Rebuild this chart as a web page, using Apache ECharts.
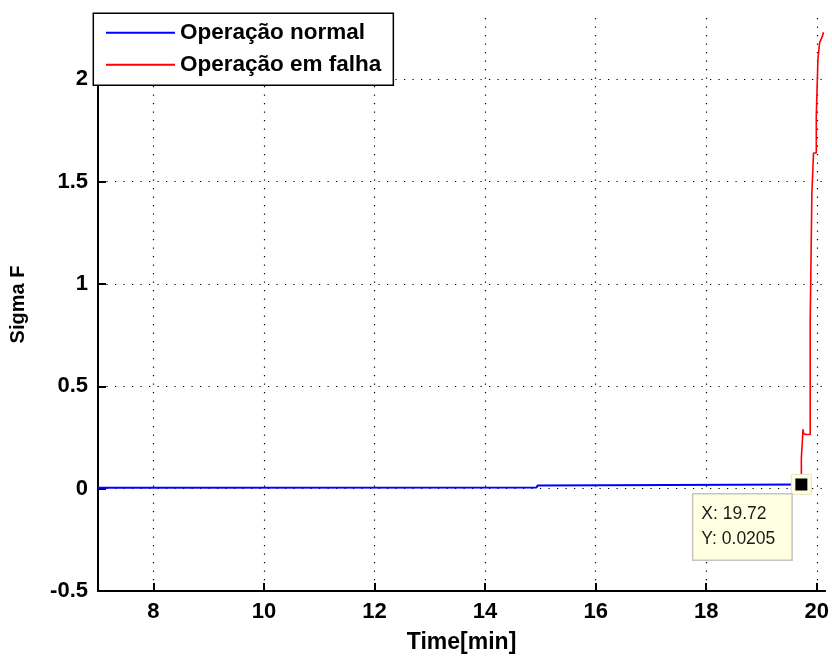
<!DOCTYPE html>
<html>
<head>
<meta charset="utf-8">
<title>Sigma F</title>
<script src="https://cdn.jsdelivr.net/npm/echarts@6/dist/echarts.min.js"></script>
<style>
  html, body { margin: 0; padding: 0; background: #ffffff; }
  #chart { width: 832px; height: 659px; }
</style>
</head>
<body>
<div id="chart"></div>
<script>
// Normal operation trace (time in minutes, Sigma F)
const normalTime = [7.0, 14.93, 14.95, 19.72];
const normalSigma = [0.004, 0.006, 0.016, 0.0205];

// Faulty operation trace, rising sharply near the end of the run
const faultTime = [19.72, 19.72, 19.75, 19.75, 19.76, 19.80, 19.88, 19.88, 19.91, 19.91,
                   19.94, 19.94, 19.99, 19.99, 20.02, 20.02, 20.05, 20.05, 20.10, 20.12];
const faultSigma = [0.0205, 0.15, 0.15, 0.29, 0.27, 0.265, 0.265, 0.82, 0.82, 1.44,
                    1.44, 1.64, 1.64, 1.82, 1.82, 2.10, 2.10, 2.18, 2.21, 2.23];

// Data cursor point
const cursorTime = 19.72;
const cursorSigma = 0.0205;

// Axis ticks
const xTicks = [8, 10, 12, 14, 16, 18, 20];
const yTicks = [-0.5, 0, 0.5, 1, 1.5, 2];

const seriesNames = ['Operação normal', 'Operação em falha'];

const zip = (xs, ys) => xs.map((x, i) => [x, ys[i]]);

const labelFont = '"Liberation Sans", Arial, sans-serif';
const gridDots = { color: '#000000', width: 1.2, type: [1.2, 7.3] };

const chart = echarts.init(document.getElementById('chart'), null, { renderer: 'canvas' });

chart.setOption({
  animation: false,
  backgroundColor: '#ffffff',
  grid: { left: 91.7, right: 3.6, top: 18, bottom: 61, containLabel: false },
  xAxis: {
    type: 'value',
    min: 7,
    max: 20.15,
    name: 'Time[min]',
    nameLocation: 'middle',
    nameGap: 40,
    nameTextStyle: { fontFamily: labelFont, fontWeight: 'bold', fontSize: 23, color: '#000' },
    axisLine: { onZero: false, lineStyle: { color: '#000', width: 2 } },
    axisTick: { inside: true, length: 8, customValues: xTicks, lineStyle: { color: '#000', width: 2 } },
    axisLabel: { customValues: xTicks, margin: 10, fontFamily: labelFont, fontWeight: 'bold', fontSize: 22, color: '#000' },
    splitLine: { show: true, lineStyle: gridDots }
  },
  yAxis: {
    type: 'value',
    min: -0.5,
    max: 2.3,
    name: 'Sigma F',
    nameLocation: 'middle',
    nameGap: 70,
    nameRotate: 90,
    nameTextStyle: { fontFamily: labelFont, fontWeight: 'bold', fontSize: 20, color: '#000' },
    axisLine: { show: true, onZero: false, lineStyle: { color: '#000', width: 2 } },
    axisTick: { show: true, inside: true, length: 8, customValues: yTicks, lineStyle: { color: '#000', width: 2 } },
    axisLabel: { customValues: yTicks, margin: 10, fontFamily: labelFont, fontWeight: 'bold', fontSize: 22, color: '#000' },
    splitLine: { show: true, lineStyle: gridDots }
  },
  legend: {
    orient: 'vertical',
    left: 93.3,
    top: 13.3,
    padding: [8, 12, 9, 12.7],
    itemGap: 9,
    itemWidth: 69,
    itemHeight: 2,
    icon: 'rect',
    backgroundColor: '#ffffff',
    borderColor: '#000000',
    borderWidth: 1.5,
    borderRadius: 0,
    data: seriesNames,
    textStyle: { fontFamily: labelFont, fontWeight: 'bold', fontSize: 22.5, lineHeight: 23, color: '#000' }
  },
  series: [
    {
      name: seriesNames[0],
      type: 'line',
      data: zip(normalTime, normalSigma),
      showSymbol: false,
      lineStyle: { color: '#0000ff', width: 2 },
      itemStyle: { color: '#0000ff' },
      z: 3
    },
    {
      name: seriesNames[1],
      type: 'line',
      data: zip(faultTime, faultSigma),
      showSymbol: false,
      lineStyle: { color: '#ff0000', width: 1.6 },
      itemStyle: { color: '#ff0000' },
      z: 3
    },
    {
      // halo behind the data cursor marker
      type: 'scatter',
      data: [[cursorTime, cursorSigma]],
      symbol: 'rect',
      symbolSize: 20,
      itemStyle: { color: '#fffee4', borderColor: '#e6e4c4', borderWidth: 1, opacity: 1 },
      silent: true,
      z: 5
    },
    {
      // data cursor marker with its readout box
      type: 'scatter',
      data: [[cursorTime, cursorSigma]],
      symbol: 'rect',
      symbolSize: 12,
      itemStyle: { color: '#000000', opacity: 1 },
      silent: true,
      z: 6,
      label: {
        show: true,
        position: [-102, 16],
        align: 'left',
        verticalAlign: 'top',
        formatter: (p) => 'X: ' + p.value[0] + '\nY: ' + p.value[1],
        fontFamily: labelFont,
        fontSize: 17.5,
        lineHeight: 25,
        color: '#1a1a1a',
        backgroundColor: '#ffffe1',
        borderColor: '#c4c4c4',
        borderWidth: 1.5,
        width: 79,
        padding: [7.5, 11, 7.5, 8]
      }
    }
  ]
});
</script>
</body>
</html>
